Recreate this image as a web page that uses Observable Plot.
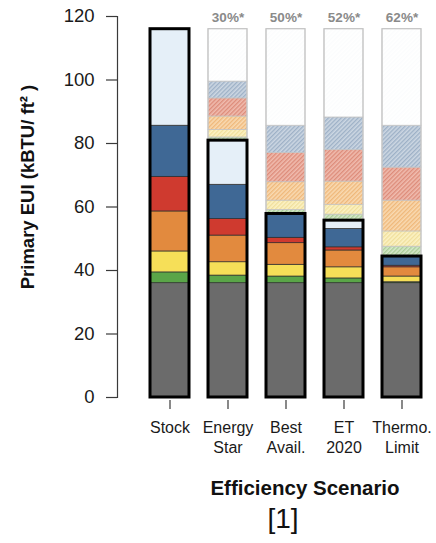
<!DOCTYPE html>
<html>
<head>
<meta charset="utf-8">
<script src="https://cdn.jsdelivr.net/npm/d3@7"></script>
<script src="https://cdn.jsdelivr.net/npm/@observablehq/plot@0.6"></script>
<style>
  html, body { margin: 0; padding: 0; background: #fff; }
  #chart svg { font-family: "Liberation Sans", Arial, Helvetica, sans-serif; color: #1a1a1a; }
</style>
</head>
<body>
<div id="chart"></div>
<script>
// Efficiency scenarios along x, with their two-line tick labels
const scenarios = ["Stock", "Energy Star", "Best Avail.", "ET 2020", "Thermo. Limit"];
const tickLabels = ["Stock", "Energy\nStar", "Best\nAvail.", "ET\n2020", "Thermo.\nLimit"];
// Savings relative to the stock, printed above each bar
const savingsLabels = ["", "30%*", "50%*", "52%*", "62%*"];

// End-use components, stacked bottom to top
const components = ["A", "B", "C", "D", "E", "F", "G"];

// Primary EUI (kBTU/ft²) per component, bottom to top
const stock       = [36, 3.4, 6.6, 12.6, 10.9, 16.1, 30.4];
const energyStar  = [36, 2.4, 4.2,  8.4,  5.2, 10.8, 13.9];
const bestAvail   = [36, 2.1, 3.7,  6.8,  1.7,  7.5,  0.0];
const et2020      = [36, 1.5, 3.5,  5.3,  1.0,  5.8,  2.6];
const thermoLimit = [36, 0.3, 1.8,  2.9,  0.5,  2.9,  0.0];

const yTicks = [0, 20, 40, 60, 80, 100, 120];

// Fills: solid for the remaining use, hatched for the share saved vs. stock
const solidFills = ["#6b6b6b", "#5aa548", "#f6df58", "#e28a3e", "#cf3a2f", "#3f6895", "#e5eff8"];
const hatchStyles = [
  null,
  {bg: "#d6e8cb", fg: "#9fc78a"},
  {bg: "#fcf2c4", fg: "#eedb92"},
  {bg: "#f9dab2", fg: "#edb06c"},
  {bg: "#f0bcaf", fg: "#d9806d"},
  {bg: "#cdd7e3", fg: "#93a8c0"},
  {bg: "#ffffff", fg: "#fbfcfd"}
];

const series = [stock, energyStar, bestAvail, et2020, thermoLimit];
const stockTotal = d3.sum(stock);

// Remaining use per component, then the saved share stacked on top
const rows = [];
scenarios.forEach((s, i) => {
  series[i].forEach((v, j) => rows.push({scenario: s, key: components[j], value: v, saved: false}));
});
scenarios.forEach((s, i) => {
  series[i].forEach((v, j) => {
    if (j > 0) rows.push({scenario: s, key: components[j] + "-saved", value: stock[j] - v, saved: true});
  });
});

const totals = scenarios.map((s, i) => ({scenario: s, total: d3.sum(series[i]), top: stockTotal, label: savingsLabels[i]}));

const colorDomain = [...components, ...components.slice(1).map(k => k + "-saved")];
const colorRange = [...solidFills, ...components.slice(1).map(k => `url(#hatch-${k})`)];

const chart = Plot.plot({
  width: 436,
  height: 543,
  marginLeft: 117,
  marginRight: 4,
  marginTop: 16,
  marginBottom: 146,
  x: {domain: scenarios, paddingInner: 0.32, paddingOuter: 0.375, align: 0.75},
  y: {domain: [0, 120]},
  color: {domain: colorDomain, range: colorRange},
  marks: [
    // stacked remaining use, then the hatched savings above it
    Plot.barY(rows, {
      ...Plot.stackY({x: "scenario", y: "value", fill: "key",
        stroke: d => d.saved ? "#c2c2c2" : "#2b2b2b"}),
      strokeWidth: 0.7
    }),
    // outline of the stock-level envelope
    Plot.barY(totals.slice(1), {x: "scenario", y1: "total", y2: "top", fill: "none", stroke: "#c6c6c6", strokeWidth: 1.2}),
    // heavy outline of the remaining EUI
    Plot.barY(totals, {x: "scenario", y: "total", fill: "none", stroke: "#000", strokeWidth: 3}),
    // savings labels
    Plot.text(totals, {x: "scenario", y: "top", text: "label", dy: -12, lineAnchor: "middle",
      fill: "#8a8a8a", fontWeight: "bold", fontSize: 13.5}),
    Plot.frame({anchor: "left", stroke: "#3a3a3a", strokeWidth: 1.2}),
    Plot.axisY(yTicks, {tickSize: 11, tickPadding: 12, fontSize: 18.5, label: null, stroke: "#3a3a3a", strokeWidth: 1.2}),
    Plot.axisX({tickSize: 9, tickPadding: 10, dy: 3, fontSize: 16, lineHeight: 1.22, label: null,
      stroke: "#3a3a3a", strokeWidth: 1.2,
      tickFormat: d => tickLabels[scenarios.indexOf(d)]}),
    Plot.text(["Primary EUI (kBTU/ ft² )"], {text: d => d, frameAnchor: "left", rotate: -90,
      dx: -89, dy: -20, textAnchor: "middle", lineAnchor: "middle", fontSize: 18.5, fontWeight: "bold", fill: "#111"}),
    Plot.text(["Efficiency Scenario"], {text: d => d, frameAnchor: "bottom", dx: 30, dy: 91,
      lineAnchor: "middle", fontSize: 20.5, fontWeight: "bold", fill: "#111"}),
    Plot.text(["[1]"], {text: d => d, frameAnchor: "bottom", dx: 8, dy: 122,
      lineAnchor: "middle", fontSize: 28, fill: "#111"})
  ]
});
document.getElementById("chart").appendChild(chart);

// Hatch patterns for the saved shares
const svg = d3.select(chart.tagName.toLowerCase() === "svg" ? chart : chart.querySelector("svg"));
const defs = svg.insert("defs", ":first-child");
components.forEach((k, j) => {
  const h = hatchStyles[j];
  if (!h) return;
  const p = defs.append("pattern")
    .attr("id", `hatch-${k}`)
    .attr("patternUnits", "userSpaceOnUse")
    .attr("width", 3).attr("height", 3)
    .attr("patternTransform", "rotate(45)");
  p.append("rect").attr("width", 3).attr("height", 3).attr("fill", h.bg);
  p.append("line").attr("x1", 0.75).attr("y1", 0).attr("x2", 0.75).attr("y2", 3)
    .attr("stroke", h.fg).attr("stroke-width", 1.1);
});
</script>
</body>
</html>
